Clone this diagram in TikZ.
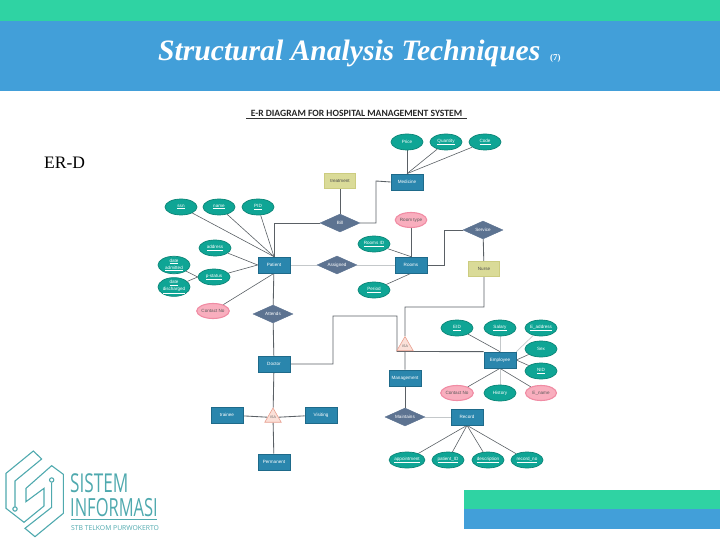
\documentclass[tikz,border=0pt]{standalone}
\usepackage{fontspec}
\setmainfont{Liberation Serif}
\newfontfamily\lsans{Liberation Sans}
\newfontfamily\carl{Carlito}
\newfontfamily\opensans{Open Sans}
\newfontfamily\logofont[FakeStretch=0.66]{Open Sans}
\usetikzlibrary{shapes.geometric,backgrounds}
\definecolor{bandgreen}{HTML}{2FD3A3}
\definecolor{bandblue}{HTML}{429FD9}
\definecolor{attrfill}{HTML}{0FA595}
\definecolor{attrline}{HTML}{0B8577}
\definecolor{pinkfill}{HTML}{F9AEBE}
\definecolor{pinkline}{HTML}{F08CA4}
\definecolor{entfill}{HTML}{2A86AD}
\definecolor{entline}{HTML}{1E6A8A}
\definecolor{relfill}{HTML}{5D7391}
\definecolor{yelfill}{HTML}{DADB98}
\definecolor{yelline}{HTML}{CCCC80}
\definecolor{trifill}{HTML}{FBE0D8}
\definecolor{triline}{HTML}{E8A090}
\definecolor{wire}{HTML}{5A6065}
\definecolor{lightwire}{HTML}{C4C8CA}
\definecolor{logoteal}{HTML}{4FA9AE}
\newcommand{\tinytext}{\lsans\fontsize{4.6}{5}\selectfont}
\tikzset{
  x=1pt,y=-1pt,
  attr/.style={ellipse,draw=attrline,fill=attrfill,line width=.7pt,minimum width=32pt,minimum height=16pt,inner sep=0pt,text=white,font=\tinytext,align=center},
  pinkattr/.style={ellipse,draw=pinkline,fill=pinkfill,line width=1.1pt,minimum width=31pt,minimum height=15pt,inner sep=0pt,text=black!65,font=\tinytext},
  ent/.style={rectangle,draw=entline,fill=entfill,line width=.7pt,minimum width=32pt,minimum height=16pt,inner sep=0pt,text=white,font=\tinytext},
  rel/.style={diamond,draw=relfill,fill=relfill,aspect=2.2,minimum width=40pt,minimum height=18pt,inner sep=0pt,text=white,font=\tinytext},
  yel/.style={rectangle,draw=yelline,fill=yelfill,line width=1pt,minimum width=31pt,minimum height=15pt,inner sep=0pt,text=black!70,font=\tinytext},
  isa/.style={regular polygon,regular polygon sides=3,draw=triline,fill=trifill,line width=.6pt,minimum size=19pt,inner sep=0pt,text=black!60,font=\lsans\fontsize{3.6}{4}\selectfont},
  wired/.style={draw=wire,line width=.6pt},
  strong/.style={draw=wire,line width=.85pt},
  faint/.style={draw=lightwire,line width=.7pt},
  logoline/.style={draw=logoteal,line width=1.1pt,line join=miter}
}
\begin{document}
\begin{tikzpicture}
\useasboundingbox (0,0) rectangle (720,540);
% bands
\fill[bandgreen] (0,0) rectangle (720,21);
\fill[bandblue] (0,21) rectangle (720,91);
\fill[bandgreen] (464,490) rectangle (720,509);
\fill[bandblue] (464,509) rectangle (720,528.5);
% headings
\node[anchor=base west,inner sep=0pt,text=white,font=\bfseries\itshape\fontsize{29.6}{32}\selectfont] (title) at (158,61) {Structural Analysis Techniques};
\node[anchor=base west,inner sep=0pt,text=white,font=\bfseries\fontsize{9}{10}\selectfont] (titlenum) at (550,61) {(7)};
\node[anchor=base west,inner sep=0pt,text=black,font=\fontsize{17.5}{20}\selectfont] (erd) at (44,169) {ER-D};
\node[inner sep=0pt,text=black!85,font=\carl\bfseries\fontsize{9.6}{10}\selectfont] (dtitle) at (356.5,113) {E-R DIAGRAM FOR HOSPITAL MANAGEMENT SYSTEM};
\coordinate (ulA) at (246,118.3);
\coordinate (ulB) at (467,118.3);
\draw[black!80,line width=.6pt] (ulA) -- (ulB);
% entities
\node[ent] (patient) at (274,265) {Patient};
\node[ent] (medicine) at (407,182) {Medicine};
\node[ent] (rooms) at (411,265) {Rooms};
\node[ent] (doctor) at (274,364) {Doctor};
\node[ent] (trainee) at (227,415) {trainee};
\node[ent] (visiting) at (321,415) {Visiting};
\node[ent] (permanent) at (274,462) {Permanent};
\node[ent] (employee) at (500,360) {Employee};
\node[ent] (management) at (405,378) {Management};
\node[ent] (record) at (467,417) {Record};
% relations
\node[rel] (bill) at (340,223) {Bill};
\node[rel] (assigned) at (337,265) {Assigned};
\node[rel] (attends) at (273,314) {Attends};
\node[rel] (service) at (483,230) {Service};
\node[rel] (maintains) at (405,417) {Maintains};
% associative boxes
\node[yel] (treatment) at (340,181) {treatment};
\node[yel] (nurse) at (484,269) {Nurse};
% isa triangles
\node[isa] (isaone) at (273,417.5) {ISA};
\node[isa] (isatwo) at (405,346) {ISA};
% attributes
\node[attr] (ssn) at (181,207) {\underline{ssn}};
\node[attr] (name) at (219,207) {\underline{name}};
\node[attr] (pid) at (258,207) {\underline{PID}};
\node[attr] (address) at (215,248) {\underline{address}};
\node[attr] (admitted) at (174,265) {\underline{date}\\[.6pt]\underline{admitted}};
\node[attr] (checkout) at (174,287) {\underline{date}\\[.6pt]\underline{discharged}};
\node[attr] (pstatus) at (214,277) {\underline{p-status}};
\node[pinkattr] (pcontact) at (213,311) {Contact No};
\node[attr] (price) at (407,142) {Price};
\node[attr] (quantity) at (446,142) {\underline{Quantity}};
\node[attr] (code) at (485,142) {\underline{Code}};
\node[pinkattr] (roomtype) at (411,220) {Room type};
\node[attr] (roomsid) at (374,244) {\underline{Rooms ID}};
\node[attr] (period) at (374,290) {\underline{Period}};
\node[attr] (eid) at (457,328) {\underline{EID}};
\node[attr] (salary) at (500,328) {\underline{Salary}};
\node[attr] (eaddress) at (541,328) {\underline{E\_address}};
\node[attr] (sex) at (541,349) {Sex};
\node[attr] (nid) at (541,371) {\underline{NID}};
\node[pinkattr] (econtact) at (457,393) {Contact No};
\node[attr] (history) at (500,393) {History};
\node[pinkattr] (ename) at (541,393) {E\_name};
\node[attr] (appointment) at (407,460) {\underline{appointment}};
\node[attr] (patientid) at (448,460) {\underline{patient\_ID}};
\node[attr] (description) at (488,460) {\underline{description}};
\node[attr] (recordno) at (527,460) {\underline{record\_no}};
% connector bends
\coordinate (bendA) at (274,223);
\coordinate (bendB) at (376,223);
\coordinate (bendC) at (376,181);
\coordinate (bendD) at (444,265);
\coordinate (bendE) at (444,230);
\coordinate (bendF) at (484,307);
\coordinate (bendG) at (405,307);
\coordinate (bendH) at (333,364);
\coordinate (bendI) at (333,316);
\coordinate (bendJ) at (397,316);
\coordinate (bendK) at (397,351.5);
\begin{scope}[on background layer]
\draw[wired] (ssn) -- (patient.north);
\draw[wired] (name) -- (patient.north);
\draw[wired] (pid) -- (patient.north);
\draw[wired] (address) -- (patient.west);
\draw[wired] (pstatus) -- (patient.west);
\draw[wired] (admitted) -- (pstatus.west);
\draw[wired] (checkout) -- (pstatus.west);
\draw[wired] (pcontact) -- (patient.south);
\draw[strong] (attends) -- (patient);
\draw[strong] (patient.north) -- (bendA) -- (bill);
\draw[strong] (bill) -- (bendB) -- (bendC) -- (medicine.west);
\draw[strong] (treatment) -- (bill);
\draw[faint] (patient) -- (assigned);
\draw[faint] (assigned) -- (rooms);
\draw[strong] (price) -- (medicine);
\draw[wired] (quantity) -- (medicine.north);
\draw[wired] (code) -- (medicine.north);
\draw[strong] (roomtype) -- (rooms);
\draw[wired] (roomsid) -- (rooms.north);
\draw[wired] (period) -- (rooms.south);
\draw[strong] (rooms.east) -- (bendD) -- (bendE) -- (service);
\draw[strong] (service) -- (nurse);
\draw[strong] (nurse) -- (bendF) -- (bendG) -- (isatwo);
\draw[strong] (attends) -- (doctor);
\draw[strong] (doctor) -- (isaone);
\draw[strong] (isaone) -- (permanent);
\draw[strong] (trainee) -- (isaone);
\draw[strong] (visiting) -- (isaone);
\draw[strong] (doctor.east) -- (bendH) -- (bendI) -- (bendJ) -- (bendK) -- (employee.north west);
\draw[strong] (isatwo) -- (management);
\draw[strong] (maintains) -- (management);
\draw[faint] (maintains) -- (record);
\draw[wired] (eid) -- (employee.north);
\draw[faint] (salary) -- (employee);
\draw[faint] (eaddress) -- (employee.north east);
\draw[wired] (sex) -- (employee.east);
\draw[wired] (nid) -- (employee.east);
\draw[wired] (econtact) -- (employee.south);
\draw[faint] (history) -- (employee);
\draw[wired] (ename) -- (employee.south);
\draw[wired] (appointment) -- (record.south);
\draw[wired] (patientid) -- (record.south);
\draw[wired] (description) -- (record.south);
\draw[wired] (recordno) -- (record.south);
\end{scope}
% logo
\begin{scope}[shift={(0,445)},x=.3333pt,y=-.3333pt]
\draw[logoline] (45,185) -- (45,108) -- (125,42) -- (100,18) -- (18,85) -- (18,190) -- (72,232) -- (132,183) -- (132,130) -- (78,170) -- (78,130) -- (155,62) -- (190,88) -- (190,205) -- (105,275) -- (75,250) -- (155,187) -- (155,113);
\draw[logoline] (45,192) circle[radius=6.5];
\draw[logoline] (155,105) circle[radius=6.5];
\end{scope}
\node[anchor=base west,inner sep=0pt,text=logoteal,font=\logofont\fontsize{26}{28}\selectfont] (sistem) at (70,492) {SISTEM};
\node[anchor=base west,inner sep=0pt,text=logoteal,font=\logofont\fontsize{25}{28}\selectfont] (informasi) at (70,516) {INFORMASI};
\coordinate (logoA) at (71,519.5);
\coordinate (logoB) at (157,519.5);
\draw[logoteal,line width=.7pt] (logoA) -- (logoB);
\node[anchor=base west,inner sep=0pt,text=logoteal,font=\opensans\fontsize{6.8}{8}\selectfont] (stb) at (71,530) {STB TELKOM PURWOKERTO};
\end{tikzpicture}
\end{document}
